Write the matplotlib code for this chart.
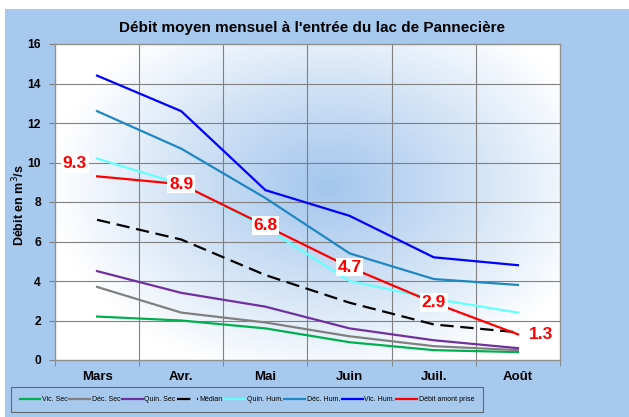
import numpy as np
import matplotlib
matplotlib.use("Agg")
import matplotlib.pyplot as plt
from matplotlib.patches import Rectangle
from matplotlib.colors import LinearSegmentedColormap

plt.rcParams['font.family'] = ['Liberation Sans', 'DejaVu Sans']

months = ["Mars", "Avr.", "Mai", "Juin", "Juil.", "Août"]
vic_sec = [2.2, 2.0, 1.6, 0.9, 0.5, 0.4]
dec_sec = [3.7, 2.4, 1.9, 1.2, 0.7, 0.5]
quin_sec = [4.5, 3.4, 2.7, 1.6, 1.0, 0.6]
median = [7.1, 6.1, 4.3, 2.9, 1.8, 1.4]
quin_hum = [10.2, 8.9, 6.7, 4.0, 3.1, 2.4]
dec_hum = [12.6, 10.7, 8.2, 5.4, 4.1, 3.8]
vic_hum = [14.4, 12.6, 8.6, 7.3, 5.2, 4.8]
debit = [9.3, 8.9, 6.8, 4.7, 2.9, 1.3]
debit_labels = ["9.3", "8.9", "6.8", "4.7", "2.9", "1.3"]

W, H = 629, 417
fig = plt.figure(figsize=(W / 100, H / 100), dpi=100)
fig.patch.set_facecolor('white')
bg = '#a7c9ee'
fig.patches.append(Rectangle((5 / W, 0), 1 - 5 / W, (H - 9) / H, transform=fig.transFigure,
                             facecolor=bg, edgecolor='none', zorder=-10))

ax = fig.add_axes([55 / W, (H - 360) / H, 505 / W, 316 / H])
ax.set_zorder(1)
ax.set_xlim(-0.5, 5.5)
ax.set_ylim(0, 16)

# radial gradient background
ny, nx = 200, 320
yy, xx = np.mgrid[0:1:ny * 1j, 0:1:nx * 1j]
cx, cy = 0.54, 0.55
r = np.sqrt(((xx - cx) / 0.55) ** 2 + ((yy - cy) / 0.62) ** 2)
t = np.clip(r, 0, 1)
cmap = LinearSegmentedColormap.from_list('g', ['#a4c6ed', '#cfe1f5', '#ffffff'])
ax.imshow(t, cmap=cmap, extent=(-0.5, 5.5, 0, 16), origin='lower', aspect='auto',
          zorder=0, vmin=0, vmax=1, interpolation='bilinear')

for yv in range(2, 16, 2):
    ax.axhline(yv, color='#808080', lw=0.8, zorder=1)
for xv in np.arange(0.5, 5, 1):
    ax.axvline(xv, color='#808080', lw=0.8, zorder=1)

x = np.arange(len(months))
series = [
    (vic_sec, 'Vic. Sec', '#00b050', '-'),
    (dec_sec, 'Déc. Sec', '#808080', '-'),
    (quin_sec, 'Quin. Sec', '#7030a0', '-'),
    (median, 'Médian', '#000000', (0, (6, 3))),
    (quin_hum, 'Quin. Hum.', '#66ffff', '-'),
    (dec_hum, 'Déc. Hum.', '#1f87c4', '-'),
    (vic_hum, 'Vic. Hum.', '#0000ff', '-'),
    (debit, 'Débit amont prise', '#ff0000', '-'),
]
handles = []
for vals, lab, col, ls in series:
    h, = ax.plot(x, vals, color=col, lw=1.6, ls=ls, label=lab, zorder=3)
    handles.append(h)

for i, (v, s) in enumerate(zip(debit, debit_labels)):
    xo, yo = i, v
    ha = 'center'
    if i == 0:
        xo = i - 0.12
        yo = v + 0.65
        ha = 'right'
    elif i == len(debit) - 1:
        xo = i + 0.13
        ha = 'left'
    ax.text(xo, yo, s, color='#ff0000', fontsize=12.5, fontweight='bold', ha=ha, va='center',
            zorder=5, bbox=dict(facecolor='white', edgecolor='none', pad=1.2))

ax.set_yticks(range(0, 17, 2))
ax.set_xticks(x)
ax.set_xticklabels(months)
ax.set_xticks(np.arange(-0.5, 6, 1), minor=True)
ax.tick_params(axis='x', which='major', length=0, pad=8, labelsize=9.5)
ax.tick_params(axis='x', which='minor', length=4, color='#808080', direction='out')
ax.tick_params(axis='y', length=4, color='#808080', labelsize=8.7, pad=6)
for lab in ax.get_xticklabels() + ax.get_yticklabels():
    lab.set_fontweight('bold')
for sp in ax.spines.values():
    sp.set_color('#909090')
    sp.set_linewidth(1.0)

ax.set_ylabel('Débit en m$^3$/s', fontsize=9, fontweight='bold', va='center')
ax.yaxis.set_label_coords(-36 / 505, 0.49)
fig.text(312 / W, 1 - 28 / H, "Débit moyen mensuel à l'entrée du lac de Pannecière",
         ha='center', va='center', fontsize=11, fontweight='bold')

leg = fig.legend(handles=handles, loc='center', bbox_to_anchor=(247 / W, 1 - 399.5 / H),
                 ncol=8, fontsize=5.0, frameon=True, handlelength=3.0, handletextpad=0.25,
                 columnspacing=0.2, borderpad=1.3, fancybox=False)
leg.get_frame().set_facecolor(bg)
leg.get_frame().set_edgecolor('#505050')
leg.get_frame().set_linewidth(0.8)

fig.savefig('out.png', dpi=100, facecolor=fig.get_facecolor())
